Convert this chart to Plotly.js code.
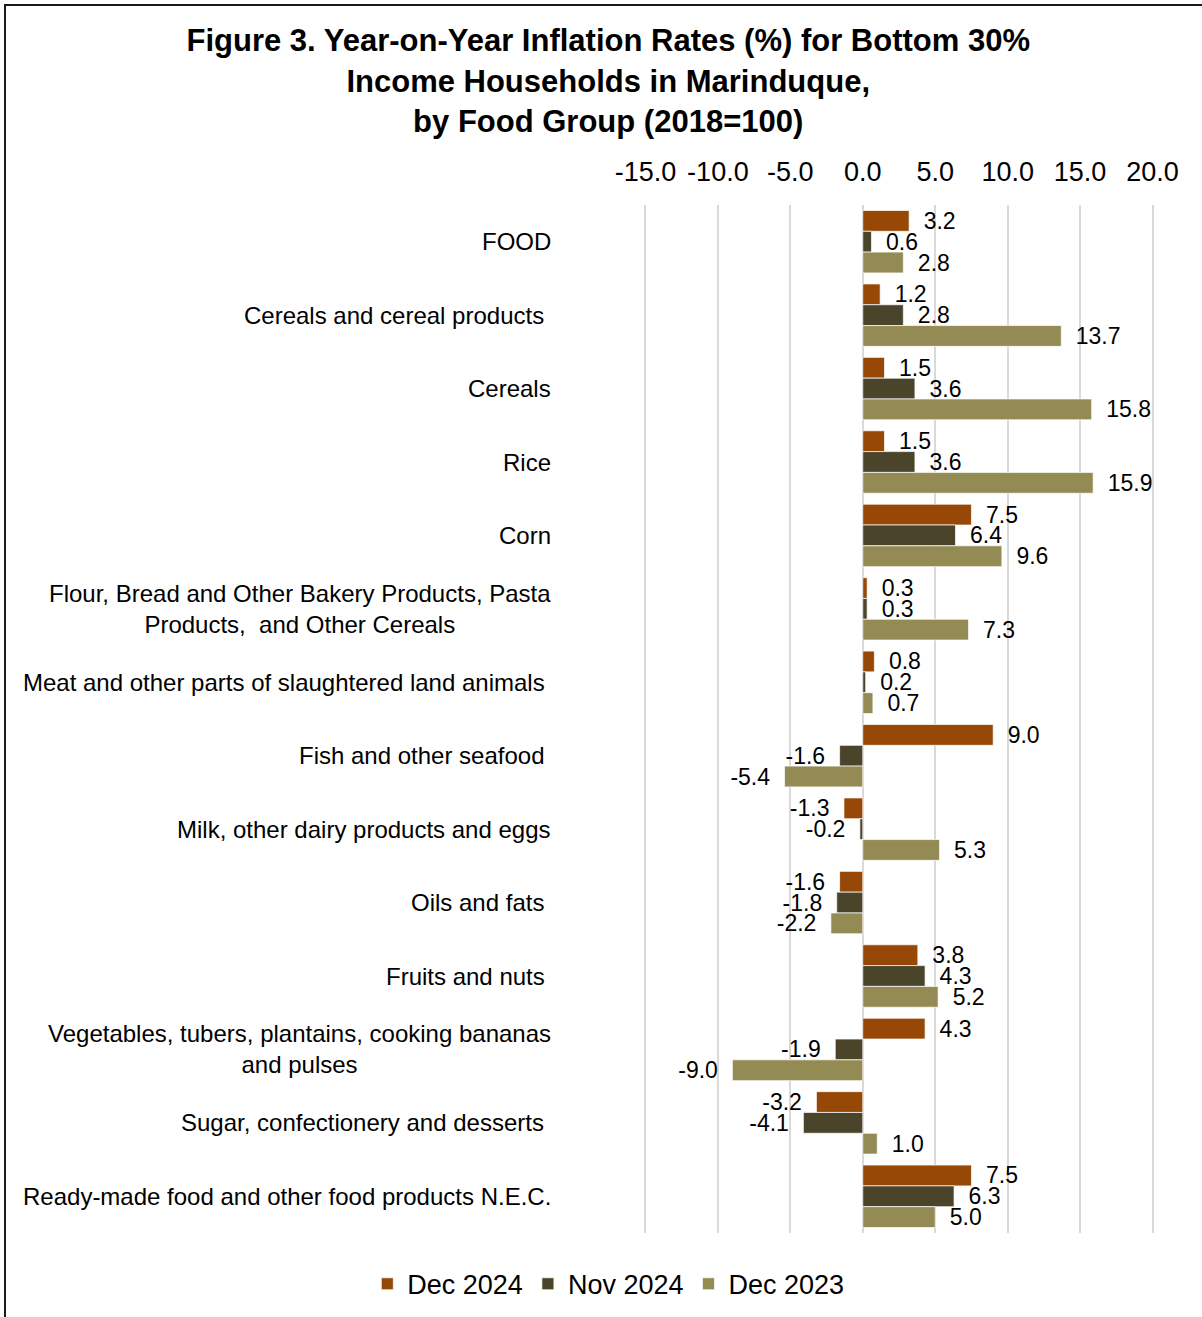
<!DOCTYPE html>
<html>
<head>
<meta charset="utf-8">
<script src="https://cdn.plot.ly/plotly-3.0.1.min.js"></script>
<style>
  html, body { margin: 0; padding: 0; background: #fff; }
  #wrap { position: relative; width: 1202px; height: 1317px; }
  #chart { width: 1202px; height: 1317px; }
  #frame { position: absolute; left: 4px; top: 4px; width: 1300px; height: 1400px;
           border-top: 2px solid #1a1a1a; border-left: 2px solid #1a1a1a; pointer-events: none; }
</style>
</head>
<body>
<div id="wrap">
  <div id="chart"></div>
  <div id="frame"></div>
</div>
<script>
const categories = [
  "FOOD",
  "Cereals and cereal products",
  "Cereals",
  "Rice",
  "Corn",
  "Flour, Bread and Other Bakery Products, Pasta<br>Products,  and Other Cereals",
  "Meat and other parts of slaughtered land animals",
  "Fish and other seafood",
  "Milk, other dairy products and eggs",
  "Oils and fats",
  "Fruits and nuts",
  "Vegetables, tubers, plantains, cooking bananas<br>and pulses",
  "Sugar, confectionery and desserts",
  "Ready-made food and other food products N.E.C."
];
// labels that carry a trailing space in the original
const trailingSpace = [false, true, false, false, false, false, true, true, false, true, true, false, true, false];

const dec2024 = [3.2, 1.2, 1.5, 1.5, 7.5, 0.3, 0.8, 9.0, -1.3, -1.6, 3.8, 4.3, -3.2, 7.5];
const nov2024 = [0.6, 2.8, 3.6, 3.6, 6.4, 0.3, 0.2, -1.6, -0.2, -1.8, 4.3, -1.9, -4.1, 6.3];
const dec2023 = [2.8, 13.7, 15.8, 15.9, 9.6, 7.3, 0.7, -5.4, 5.3, -2.2, 5.2, -9.0, 1.0, 5.0];

const tickValues = [-15, -10, -5, 0, 5, 10, 15, 20];
const tickLabels = ["-15.0", "-10.0", "-5.0", "0.0", "5.0", "10.0", "15.0", "20.0"];

const seriesNames = ["Dec 2024", "Nov 2024", "Dec 2023"];
const seriesColors = ["#974706", "#4a452a", "#948a54"];
const seriesValues = [dec2024, nov2024, dec2023];

function labelText(vals) {
  return vals.map(v => v >= 0 ? "\u2002" + v.toFixed(1) : v.toFixed(1) + "\u2002");
}

const traces = seriesValues.map((vals, i) => ({
  type: "bar",
  orientation: "h",
  name: seriesNames[i],
  x: vals,
  y: categories,
  marker: { color: seriesColors[i], line: { color: "rgba(255,255,255,0.7)", width: 1 } },
  text: labelText(vals),
  textposition: "outside",
  textfont: { family: "Liberation Sans, Arial, sans-serif", size: 23, color: "#000" },
  constraintext: "none",
  cliponaxis: false,
  hoverinfo: "x+name"
}));

const annotations = categories.map((c, i) => ({
  xref: "paper", yref: "y",
  x: -0.1785, y: c,
  xanchor: "right", yanchor: "middle",
  align: "center",
  text: c + (trailingSpace[i] ? "\u00a0" : ""),
  showarrow: false,
  font: { family: "Liberation Sans, Arial, sans-serif", size: 24, color: "#000" }
}));

const layout = {
  width: 1202, height: 1317,
  paper_bgcolor: "#fff", plot_bgcolor: "#fff",
  font: { family: "Liberation Sans, Arial, sans-serif", color: "#000" },
  title: {
    text: "<b>Figure 3. Year-on-Year Inflation Rates (%) for Bottom 30%<br>Income Households in Marinduque,<br>by Food Group (2018=100)</b>",
    font: { family: "Liberation Sans, Arial, sans-serif", size: 31, color: "#000" },
    x: 0.506, xanchor: "center",
    y: 0.961, yanchor: "top", yref: "container"
  },
  margin: { l: 644, r: 48, t: 205, b: 84, autoexpand: false },
  barmode: "group",
  bargap: 0.15,
  bargroupgap: 0,
  xaxis: {
    side: "top",
    range: [-15.1, 20.1],
    tickmode: "array",
    tickvals: tickValues,
    ticktext: tickLabels,
    showgrid: true,
    gridcolor: "#d9d9d9",
    gridwidth: 2,
    zeroline: true,
    zerolinecolor: "#d9d9d9",
    zerolinewidth: 2,
    showline: false,
    ticks: "",
    ticklabelstandoff: 18,
    tickfont: { family: "Liberation Sans, Arial, sans-serif", size: 27, color: "#000" },
    fixedrange: true
  },
  yaxis: {
    type: "category",
    autorange: "reversed",
    showticklabels: false,
    showgrid: false,
    zeroline: false,
    showline: false,
    ticks: "",
    fixedrange: true
  },
  legend: {
    orientation: "h",
    x: -0.07, xanchor: "center",
    y: -0.026, yanchor: "top",
    font: { family: "Liberation Sans, Arial, sans-serif", size: 27, color: "#000" },
    traceorder: "normal",
    itemwidth: 30
  },
  annotations: annotations,
  showlegend: true
};

Plotly.newPlot("chart", traces, layout, { displayModeBar: false, responsive: false });
</script>
</body>
</html>
